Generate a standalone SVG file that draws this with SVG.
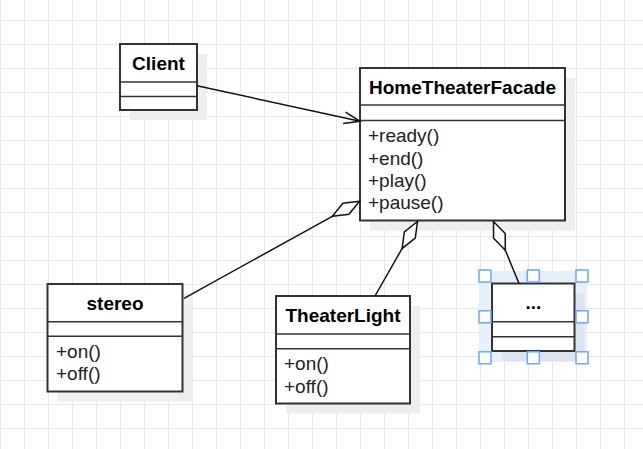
<svg xmlns="http://www.w3.org/2000/svg" width="643" height="449" viewBox="0 0 643 449">
<style>
.box{fill:#ffffff;stroke:#333333;stroke-width:2}
.sep{stroke:#333333;stroke-width:1.5;fill:none}
.shadow{fill:#eeeeee}
.title{font-family:"Liberation Sans",Arial,sans-serif;font-size:19px;font-weight:bold;fill:#000000;text-anchor:middle}
.member{font-family:"Liberation Sans",Arial,sans-serif;font-size:19px;fill:#222222}
.edge{stroke:#111111;stroke-width:1.5;fill:none}
.handle{fill:#ffffff;stroke:#6aa6ff;stroke-width:1.5}
</style>
<defs>
<pattern id="grid" patternUnits="userSpaceOnUse" x="0" y="20" width="24" height="24">
<path d="M0.5,0 V24 M0,0.5 H24" stroke="#e8e8e8" stroke-width="1" fill="none"/>
</pattern>
<marker id="diamond" markerUnits="userSpaceOnUse" orient="auto" refX="0" refY="0" markerWidth="40" markerHeight="20" overflow="visible">
<path d="M0,0 L-15.5,-6.3 L-31,0 L-15.5,6.3 Z" fill="#ffffff" stroke="#111111" stroke-width="1.5" stroke-linejoin="miter"/>
</marker>
<marker id="open" markerUnits="userSpaceOnUse" orient="auto" refX="0" refY="0" markerWidth="20" markerHeight="20" overflow="visible">
<path d="M-16,-5.8 L0,0 L-16,5.8" fill="none" stroke="#111111" stroke-width="1.5"/>
</marker>
</defs>
<rect x="0" y="0" width="643" height="449" fill="#ffffff"/>
<rect x="0" y="0" width="643" height="449" fill="url(#grid)"/>

<!-- selection highlight behind the "..." class -->
<rect x="479" y="271" width="108" height="91" fill="#e6effc"/>

<g id="Client">
<rect class="shadow" x="130" y="54" width="77" height="66"/>
<rect class="box" x="120" y="44" width="77" height="66"/>
<line class="sep" x1="120" y1="82" x2="197" y2="82"/>
<line class="sep" x1="120" y1="96.5" x2="197" y2="96.5"/>
<text class="title" x="158.5" y="69.5">Client</text>
</g>

<g id="HomeTheaterFacade">
<rect class="shadow" x="370" y="78" width="205" height="152.5"/>
<rect class="box" x="360" y="68" width="205" height="152.5"/>
<line class="sep" x1="360" y1="105" x2="565" y2="105"/>
<line class="sep" x1="360" y1="120.5" x2="565" y2="120.5"/>
<text class="title" x="462.5" y="93.5">HomeTheaterFacade</text>
<text class="member" x="368" y="142.3">+ready()</text>
<text class="member" x="368" y="164.6">+end()</text>
<text class="member" x="368" y="186.9">+play()</text>
<text class="member" x="368" y="209.2">+pause()</text>
</g>

<g id="stereo">
<rect class="shadow" x="57.5" y="294" width="135" height="107.5"/>
<rect class="box" x="47.5" y="284" width="135" height="107.5"/>
<line class="sep" x1="47.5" y1="321.7" x2="182.5" y2="321.7"/>
<line class="sep" x1="47.5" y1="336.3" x2="182.5" y2="336.3"/>
<text class="title" x="115" y="309.5">stereo</text>
<text class="member" x="56" y="357.8">+on()</text>
<text class="member" x="56" y="380.1">+off()</text>
</g>

<g id="TheaterLight">
<rect class="shadow" x="286" y="306" width="134" height="107.5"/>
<rect class="box" x="276" y="296" width="134" height="107.5"/>
<line class="sep" x1="276" y1="334" x2="410" y2="334"/>
<line class="sep" x1="276" y1="348.7" x2="410" y2="348.7"/>
<text class="title" x="343" y="321.5">TheaterLight</text>
<text class="member" x="284" y="370.3">+on()</text>
<text class="member" x="284" y="392.6">+off()</text>
</g>

<g id="Other">
<rect x="502" y="293.5" width="82.5" height="67.5" fill="#dbe3ef"/>
<rect class="box" x="492" y="283.5" width="82.5" height="67.5"/>
<line class="sep" x1="492" y1="321.7" x2="574.5" y2="321.7" stroke="#444444"/>
<line class="sep" x1="492" y1="336.7" x2="574.5" y2="336.7" stroke="#444444"/>
<text class="title" x="533.3" y="309">...</text>
</g>

<g id="connectors">
<path class="edge" d="M197,85.7 L360,121.3" marker-end="url(#open)"/>
<path class="edge" d="M184,298.3 L359.5,201.3" marker-end="url(#diamond)"/>
<path class="edge" d="M375,296 L417.5,221.5" marker-end="url(#diamond)"/>
<path class="edge" d="M519,283.5 L493.5,221.5" marker-end="url(#diamond)"/>
</g>

<g id="selection-handles">
<rect class="handle" x="479" y="270" width="12" height="12"/>
<rect class="handle" x="527.3" y="270" width="12" height="12"/>
<rect class="handle" x="576" y="270" width="12" height="12"/>
<rect class="handle" x="479" y="310.8" width="12" height="12"/>
<rect class="handle" x="576" y="310.8" width="12" height="12"/>
<rect class="handle" x="479" y="351.8" width="12" height="12"/>
<rect class="handle" x="527.3" y="351.8" width="12" height="12"/>
<rect class="handle" x="576" y="351.8" width="12" height="12"/>
</g>
</svg>
